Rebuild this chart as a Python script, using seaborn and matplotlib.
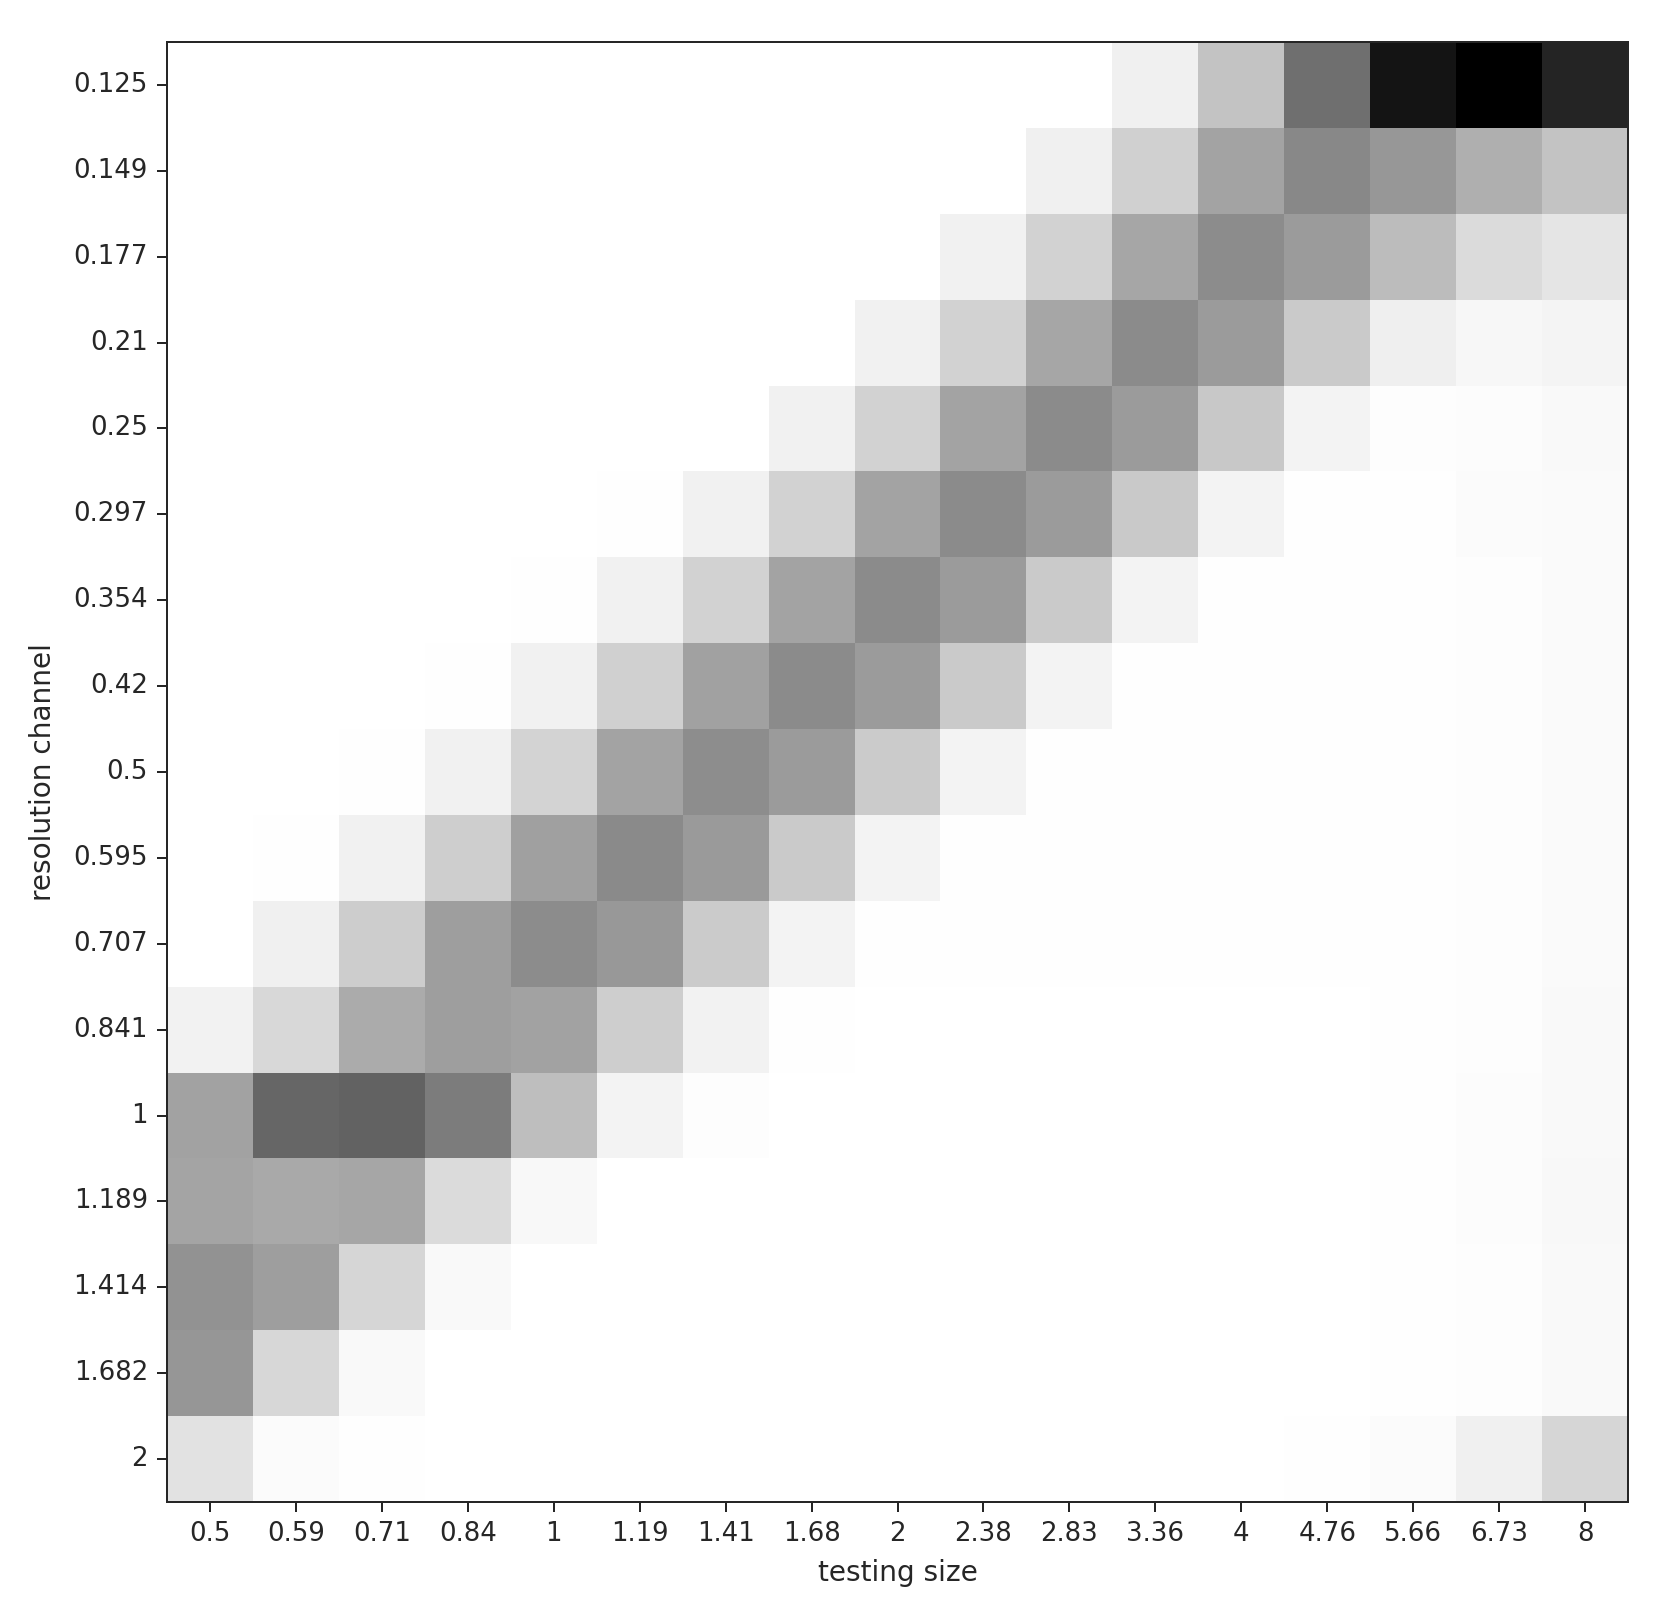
import numpy as np
import pandas as pd
import matplotlib
matplotlib.use("Agg")
import matplotlib.pyplot as plt
import seaborn as sns

# axis labels
testing_size = ["0.5", "0.59", "0.71", "0.84", "1", "1.19", "1.41", "1.68", "2",
                "2.38", "2.83", "3.36", "4", "4.76", "5.66", "6.73", "8"]
resolution_channel = ["0.125", "0.149", "0.177", "0.21", "0.25", "0.297", "0.354", "0.42",
                      "0.5", "0.595", "0.707", "0.841", "1", "1.189", "1.414", "1.682", "2"]

# response per resolution channel (rows), one value per testing size
r_0125 = [0, 0, 0, 0, 0, 0, 0, 0, 0, 0, 0, 0.059, 0.235, 0.565, 0.918, 1.0, 0.859]
r_0149 = [0, 0, 0, 0, 0, 0, 0, 0, 0, 0, 0.059, 0.184, 0.361, 0.467, 0.408, 0.314, 0.235]
r_0177 = [0, 0, 0, 0, 0, 0, 0, 0, 0, 0.055, 0.176, 0.349, 0.451, 0.392, 0.263, 0.141, 0.102]
r_021 = [0, 0, 0, 0, 0, 0, 0, 0, 0.055, 0.176, 0.349, 0.455, 0.392, 0.208, 0.063, 0.035, 0.043]
r_025 = [0, 0, 0, 0, 0, 0, 0, 0.055, 0.176, 0.361, 0.455, 0.392, 0.216, 0.047, 0.008, 0.012, 0.024]
r_0297 = [0, 0, 0, 0, 0, 0.004, 0.055, 0.176, 0.361, 0.455, 0.392, 0.212, 0.047, 0.004, 0.004, 0.016, 0.020]
r_0354 = [0, 0, 0, 0, 0.004, 0.055, 0.176, 0.361, 0.455, 0.392, 0.208, 0.047, 0.004, 0.004, 0.004, 0.008, 0.020]
r_042 = [0, 0, 0, 0.004, 0.055, 0.184, 0.369, 0.455, 0.392, 0.208, 0.047, 0.004, 0.004, 0.004, 0.004, 0.008, 0.020]
r_05 = [0, 0, 0.004, 0.055, 0.173, 0.361, 0.447, 0.392, 0.204, 0.047, 0.004, 0.004, 0.004, 0.004, 0.004, 0.008, 0.020]
r_0595 = [0, 0.004, 0.055, 0.192, 0.373, 0.459, 0.396, 0.208, 0.047, 0.004, 0.004, 0.004, 0.004, 0.004, 0.004, 0.008, 0.020]
r_0707 = [0, 0.059, 0.196, 0.380, 0.451, 0.404, 0.204, 0.047, 0.004, 0.004, 0.004, 0.004, 0.004, 0.004, 0.004, 0.008, 0.020]
r_0841 = [0.051, 0.153, 0.329, 0.380, 0.365, 0.192, 0.051, 0.004, 0, 0, 0, 0, 0, 0, 0.004, 0.008, 0.024]
r_1 = [0.365, 0.600, 0.616, 0.514, 0.255, 0.047, 0.008, 0, 0, 0, 0, 0, 0, 0, 0.004, 0.012, 0.027]
r_1189 = [0.357, 0.337, 0.349, 0.141, 0.031, 0, 0, 0, 0, 0, 0, 0, 0, 0, 0.004, 0.012, 0.031]
r_1414 = [0.427, 0.380, 0.161, 0.027, 0, 0, 0, 0, 0, 0, 0, 0, 0, 0, 0.004, 0.008, 0.024]
r_1682 = [0.412, 0.157, 0.024, 0, 0, 0, 0, 0, 0, 0, 0, 0, 0, 0, 0.004, 0.008, 0.024]
r_2 = [0.114, 0.016, 0.004, 0, 0, 0, 0, 0, 0, 0, 0, 0, 0, 0.004, 0.016, 0.059, 0.161]

rows = [r_0125, r_0149, r_0177, r_021, r_025, r_0297, r_0354, r_042, r_05,
        r_0595, r_0707, r_0841, r_1, r_1189, r_1414, r_1682, r_2]
df = pd.DataFrame(rows, index=resolution_channel, columns=testing_size)

DPI = 144
TEXT = "#262626"
fig = plt.figure(figsize=(1662 / DPI, 1606 / DPI), dpi=DPI)
ax = fig.add_axes([167 / 1662, 1 - 1502 / 1606, 1461 / 1662, 1460 / 1606])

sns.heatmap(df, cmap="gray_r", vmin=0, vmax=1, cbar=False, ax=ax)

# put the frame back (heatmap removes it)
for s in ax.spines.values():
    s.set_visible(True)
    s.set_color(TEXT)
    s.set_linewidth(1.0)

ax.tick_params(axis="both", length=5, width=1, pad=4.5, color=TEXT, labelcolor=TEXT, labelsize=13)
ax.set_yticklabels(resolution_channel, rotation=0)
ax.set_xticklabels(testing_size, rotation=0)
ax.set_xlabel("testing size", fontsize=14, color=TEXT, labelpad=6)
ax.set_ylabel("resolution channel", fontsize=14, color=TEXT, labelpad=8)

fig.savefig("out.png", dpi=DPI, facecolor="white")
